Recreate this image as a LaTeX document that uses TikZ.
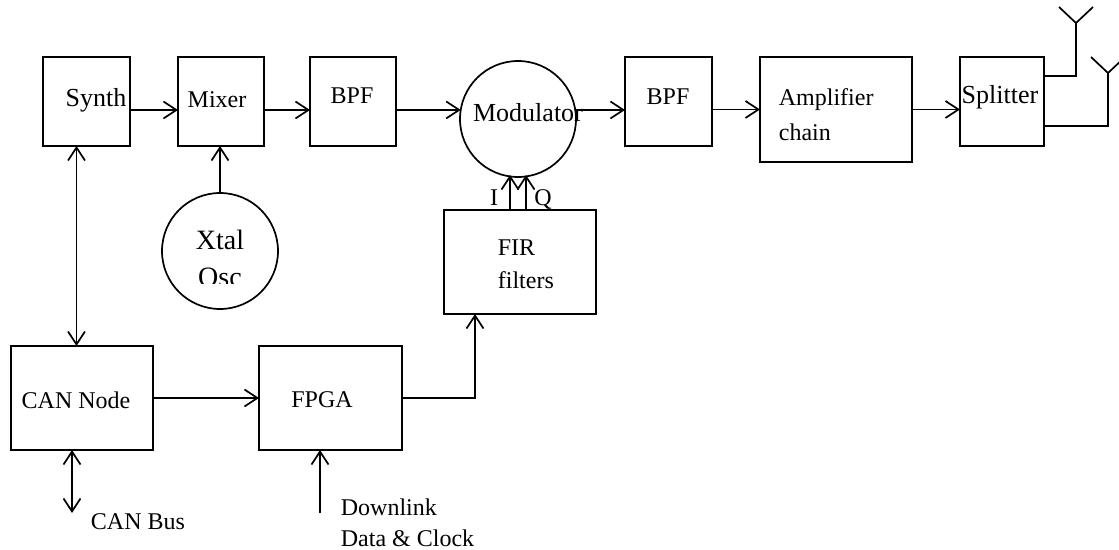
\documentclass[tikz,border=0pt]{standalone}
\usepackage{fontspec}
\setmainfont{Liberation Serif}
\usetikzlibrary{arrows.meta,positioning,calc}
\tikzstyle{blk}=[draw=black, line width=0.85pt, inner sep=0pt, outer sep=0pt]
\tikzstyle{arr}=[-{Straight Barb[length=6.5pt,width=8.5pt]}, line width=0.85pt]
\tikzstyle{darr}=[{Straight Barb[length=6.5pt,width=8.5pt]}-{Straight Barb[length=6.5pt,width=8.5pt]}, line width=0.85pt]
\tikzstyle{lbl}=[inner sep=0pt, font=\fontsize{12}{14}\selectfont]
\tikzstyle{lbb}=[inner sep=0pt, font=\fontsize{13}{15}\selectfont]
\begin{document}
\begin{tikzpicture}[x=0.5pt,y=-0.5pt,line width=0.85pt]
\useasboundingbox (0,0) rectangle (1119,550);
% top row
\node[blk, minimum width=43.5pt, minimum height=44.5pt] (synth) at (86.5,101.5) {};
\node[blk, minimum width=43pt, minimum height=44.5pt] (mixer) at (221,101.5) {};
\node[blk, minimum width=43pt, minimum height=44.5pt] (bpfa) at (353,101.5) {};
\node[blk, circle, minimum size=58pt] (mod) at (518,119) {};
\node[blk, minimum width=43.5pt, minimum height=44.5pt] (bpfb) at (668.5,101.5) {};
\node[blk, minimum width=76pt, minimum height=52.5pt] (amp) at (836,109.5) {};
\node[blk, minimum width=42pt, minimum height=44.5pt] (split) at (1002,101.5) {};
\node[lbb] (synth-t) at (96,100) {Synth};
\node[lbl] (mixer-t) at (217,100) {Mixer};
\node[lbl] (bpfa-t) at (352,96) {BPF};
\node[lbb] (mod-t) at (528,113) {Modulator};
\node[lbl] (bpfb-t) at (668,97) {BPF};
\node[lbl, anchor=west] (amp-t) at (778,100) {Amplifier};
\node[lbl, anchor=west] (amp-u) at (778,132) {chain};
\node[lbb] (split-t) at (1000,97) {Splitter};
% oscillator and filters
\node[blk, circle, minimum size=58pt] (xtal) at (220,251) {};
\node[inner sep=0pt, font=\fontsize{14}{16}\selectfont] (xtal-t) at (220,240) {Xtal};
\begin{scope}
\clip (150,180) rectangle (290,284);
\node[inner sep=0pt, font=\fontsize{14}{16}\selectfont] (xtal-u) at (220,277) {Osc};
\end{scope}
\node[blk, minimum width=76pt, minimum height=52pt] (fir) at (520,262) {};
\node[lbl, anchor=west] (fir-t) at (497,248) {FIR};
\node[lbl, anchor=west] (fir-u) at (497,280) {filters};
\node[lbl] (i-t) at (494,198) {I};
\node[lbl] (q-t) at (543,200) {Q};
% bottom row
\node[blk, minimum width=71pt, minimum height=52pt] (can) at (82,398) {};
\node[blk, minimum width=71.5pt, minimum height=52pt] (fpga) at (330.5,398) {};
\node[lbl] (can-t) at (76,400) {CAN Node};
\node[lbl] (fpga-t) at (322,400) {FPGA};
\node[lbl] (bus-t) at (138,522) {CAN Bus};
\node[lbl, anchor=west] (dl-t) at (340,507) {Downlink};
\node[lbl, anchor=west] (dl-u) at (340,538) {Data \& Clock};
\coordinate (bus) at (72,513);
\coordinate (dl) at (320,513);

\draw[arr] ([yshift=-4.25pt]synth.east) -- ([yshift=-4.25pt]mixer.west);
\draw[arr] ([yshift=-4.25pt]mixer.east) -- ([yshift=-4.25pt]bpfa.west);
\draw[arr] ([yshift=-4.25pt]bpfa.east) -- (mod.171);
\draw[arr] (mod.9) -- ([yshift=-4.25pt]bpfb.west);
\draw[arr] ([yshift=-4.25pt]bpfb.east) -- (bpfb.east |- amp.west) -- (amp.west);
\draw[arr] (amp.east) -- (amp.east -| split.west);
\draw[arr] (xtal.north) -- (xtal.north |- mixer.south);
\draw[arr] ([xshift=-5pt]fir.north) -- ([xshift=-5pt,yshift=1pt]fir.north |- mod.south);
\draw[arr] ([xshift=3pt]fir.north) -- ([xshift=3pt,yshift=1pt]fir.north |- mod.south);
\draw[darr] ([xshift=-5pt]synth.south) -- ([xshift=-5pt]synth.south |- can.north);
\draw[arr] (can.east) -- (fpga.west);
\draw[darr] (can.south -| bus) -- (bus);
\draw[arr] (dl) -- (dl |- fpga.south);
\draw[arr] (fpga.east) -| ([xshift=-22.5pt]fir.south);
% antennas
\foreach \n/\x/\y/\s in {a/1076/23/12.75pt, b/1108/73/-12.25pt}{
\coordinate (ant\n) at (\x,\y);
\draw ([yshift=\s]split.east) -| (ant\n);
\draw (ant\n) ++(-17,-16) -- (ant\n) -- ++(17,-16);
}
\end{tikzpicture}
\end{document}
